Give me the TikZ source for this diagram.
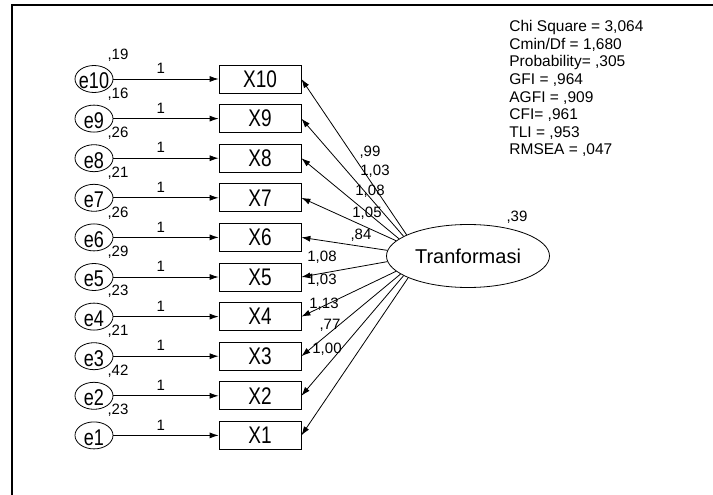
\documentclass[tikz,border=0pt]{standalone}
\usepackage{fontspec}
\setmainfont{Liberation Sans}
\usepackage{graphicx}
\usepackage{tikz}
\usetikzlibrary{arrows.meta,shapes.geometric,positioning}

\newcommand{\stretchtxt}[1]{\scalebox{0.95}[1.2]{#1}}

\begin{document}
\begin{tikzpicture}[x=1pt, y=-1pt, ->, >={Latex[length=9pt, width=6pt]}, line width=0.8pt,
  errvar/.style={ellipse, draw, minimum width=38pt, minimum height=27pt, inner sep=0pt,
    label={[font=\fontsize{19}{19}\selectfont, inner sep=0pt, yshift=-2pt]center:\stretchtxt{#1}}},
  obsvar/.style={rectangle, draw, minimum width=82pt, minimum height=28pt, inner sep=0pt, font=\fontsize{20}{20}\selectfont},
  latvar/.style={ellipse, draw, minimum width=163pt, minimum height=63pt, inner sep=0pt, font=\fontsize{20}{20}\selectfont},
  est/.style={inner sep=0pt, font=\fontsize{15}{15}\selectfont}]
\path[use as bounding box] (0,0) rectangle (713,495);
\draw[-, line width=2pt] (12,495) -- (12,5) -- (713,5);
\node[latvar] (Tran) at (468,256) {Tranformasi};
\node[est] (vTran) at (517,217) {,39};
\node[obsvar] (X10) at (260,79) {\stretchtxt{X10}};
\node[obsvar] (X9) at (260,118.6) {\stretchtxt{X9}};
\node[obsvar] (X8) at (260,158.2) {\stretchtxt{X8}};
\node[obsvar] (X7) at (260,197.8) {\stretchtxt{X7}};
\node[obsvar] (X6) at (260,237.4) {\stretchtxt{X6}};
\node[obsvar] (X5) at (260,277) {\stretchtxt{X5}};
\node[obsvar] (X4) at (260,316.6) {\stretchtxt{X4}};
\node[obsvar] (X3) at (260,356.2) {\stretchtxt{X3}};
\node[obsvar] (X2) at (260,395.8) {\stretchtxt{X2}};
\node[obsvar] (X1) at (260,435.4) {\stretchtxt{X1}};
\node[errvar=e10] (e10) at (94,79) {};
\node[errvar=e9] (e9) at (94,118.6) {};
\node[errvar=e8] (e8) at (94,158.2) {};
\node[errvar=e7] (e7) at (94,197.8) {};
\node[errvar=e6] (e6) at (94,237.4) {};
\node[errvar=e5] (e5) at (94,277) {};
\node[errvar=e4] (e4) at (94,316.6) {};
\node[errvar=e3] (e3) at (94,356.2) {};
\node[errvar=e2] (e2) at (94,395.8) {};
\node[errvar=e1] (e1) at (94,435.4) {};
% variances of the errors
\node[est] (v10) at (118,55) {,19};
\node[est] (v9) at (118,94) {,16};
\node[est] (v8) at (118,133) {,26};
\node[est] (v7) at (118,173) {,21};
\node[est] (v6) at (118,213) {,26};
\node[est] (v5) at (118,252) {,29};
\node[est] (v4) at (118,291) {,23};
\node[est] (v3) at (118,331) {,21};
\node[est] (v2) at (118,371) {,42};
\node[est] (v1) at (118,410) {,23};
\path (e10) edge node[est, above=5pt, pos=0.45] {1} (X10);
\path (e9) edge node[est, above=5pt, pos=0.45] {1} (X9);
\path (e8) edge node[est, above=5pt, pos=0.45] {1} (X8);
\path (e7) edge node[est, above=5pt, pos=0.45] {1} (X7);
\path (e6) edge node[est, above=5pt, pos=0.45] {1} (X6);
\path (e5) edge node[est, above=5pt, pos=0.45] {1} (X5);
\path (e4) edge node[est, above=5pt, pos=0.45] {1} (X4);
\path (e3) edge node[est, above=5pt, pos=0.45] {1} (X3);
\path (e2) edge node[est, above=5pt, pos=0.45] {1} (X2);
\path (e1) edge node[est, above=5pt, pos=0.45] {1} (X1);
% loadings
\path (Tran.161) edge (X10.east);
\path (Tran.163) edge (X9.east);
\path (Tran.166) edge (X8.east);
\path (Tran.168) edge (X7.east);
\path (Tran.176) edge (X6.east);
\path (Tran.184) edge (X5.east);
\path (Tran.192) edge (X4.east);
\path (Tran.195) edge (X3.east);
\path (Tran.197) edge (X2.east);
\path (Tran.200) edge (X1.east);
\node[est] (w10) at (370,152) {,99};
\node[est] (w9) at (375,171) {1,03};
\node[est] (w8) at (370,191) {1,08};
\node[est] (w7) at (367,213) {1,05};
\node[est] (w6) at (361,235) {,84};
\node[est] (w5) at (322,257) {1,08};
\node[est] (w4) at (322,280) {1,03};
\node[est] (w3) at (324,304) {1,13};
\node[est] (w2) at (330,325) {,77};
\node[est] (w1) at (327,349) {1,00};
% fit indices
\node[anchor=north west, inner sep=0pt, align=left, font=\fontsize{15.5}{17.6}\selectfont] (gof) at (509,20)
  {Chi Square = 3,064\\Cmin/Df = 1,680\\Probability= ,305\\GFI = ,964\\AGFI = ,909\\CFI= ,961\\TLI = ,953\\RMSEA = ,047};
\end{tikzpicture}
\end{document}
